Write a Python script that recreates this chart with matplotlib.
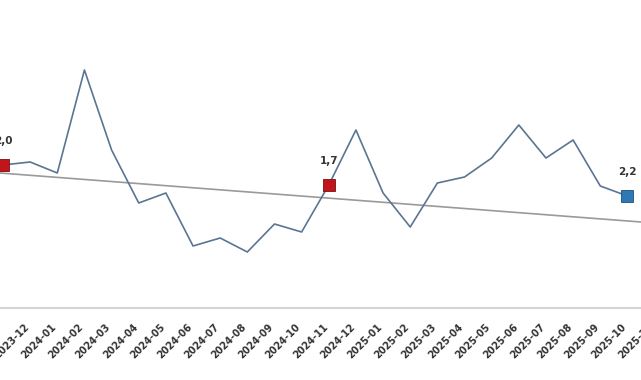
import matplotlib
matplotlib.use("Agg")
import matplotlib.pyplot as plt
import matplotlib.transforms as mtransforms
import numpy as np

months = ["2023-12", "2024-01", "2024-02", "2024-03", "2024-04", "2024-05",
          "2024-06", "2024-07", "2024-08", "2024-09", "2024-10", "2024-11",
          "2024-12", "2025-01", "2025-02", "2025-03", "2025-04", "2025-05",
          "2025-06", "2025-07", "2025-08", "2025-09", "2025-10", "2025-11"]
values = [1.43, 1.46, 1.35, 2.38, 1.58, 1.05, 1.15, 0.62, 0.70, 0.56, 0.84, 0.76,
          1.23, 1.78, 1.15, 0.81, 1.25, 1.31, 1.50, 1.83, 1.50, 1.68, 1.22, 1.12]
ref_start, ref_end = 1.35, 0.86
marker_idx = [0, 12, 23]
marker_colors = ["#c0151b", "#c0151b", "#2f78b8"]
marker_edges = ["#7a1010", "#7a1010", "#1f4f80"]
marker_labels = ["2,0", "1,7", "2,2"]

fig = plt.figure(figsize=(6.41, 3.80), dpi=100)
ax = fig.add_axes([0, 72 / 380, 1, 308 / 380])
x = np.arange(len(months))
ax.set_xlim(-0.11, 23.5)
ax.set_ylim(0, 3.08)

ax.plot([-0.11, 23.5], [ref_start, ref_end], color="#9a9a9a", lw=1.2, zorder=1)
ax.plot(x, values, color="#5a7592", lw=1.2, zorder=2)
for i, c, ec, lab in zip(marker_idx, marker_colors, marker_edges, marker_labels):
    ax.plot(x[i], values[i], marker="s", ms=9, color=c, mec=ec, mew=0.6, zorder=3)
    ax.annotate(lab, (x[i], values[i]), xytext=(0, 14), textcoords="offset points",
                ha="center", va="bottom", fontsize=7.5, fontweight="bold", color="#333333")

for s in ["top", "right", "left"]:
    ax.spines[s].set_visible(False)
ax.spines["bottom"].set_color("#d4d4d4")
ax.spines["bottom"].set_linewidth(1.5)
ax.set_yticks([])
ax.set_xticks(x)
ax.set_xticklabels(months, rotation=45, ha="right", va="top", rotation_mode="anchor",
                   fontsize=7, fontweight="bold", color="#333333")
ax.tick_params(axis="x", length=0, pad=10)
offset = mtransforms.ScaledTranslation(21 / 100, 0, fig.dpi_scale_trans)
for lbl in ax.get_xticklabels():
    lbl.set_transform(lbl.get_transform() + offset)

fig.savefig("out.png", dpi=100)
